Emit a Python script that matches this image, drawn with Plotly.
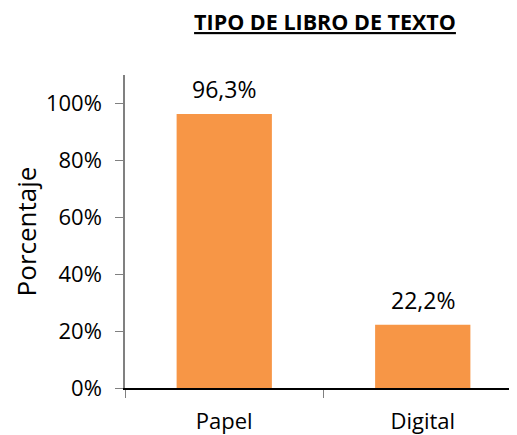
import plotly.graph_objects as go

categories = ["Papel", "Digital"]
values = [0.963, 0.222]
value_labels = ["96,3%", "22,2%"]
title_text = "TIPO DE LIBRO DE TEXTO"
y_title = "Porcentaje"
y_tickvals = [0, 0.2, 0.4, 0.6, 0.8, 1.0]
bar_color = "#F79646"
FONT = "Open Sans, Liberation Sans, sans-serif"

# page body has an 8px default margin, so the figure is sized to fit inside the window
W, H = 509, 427

fig = go.Figure(
    go.Bar(
        x=categories,
        y=values,
        marker=dict(color=bar_color, line=dict(width=0)),
        cliponaxis=False,
        width=0.48,
    )
)

for c, v, t in zip(categories, values, value_labels):
    fig.add_annotation(
        x=c, y=v, text=t, showarrow=False,
        yanchor="bottom", yshift=7,
        font=dict(size=23, family=FONT, color="#000000"),
    )

fig.update_layout(
    width=W,
    height=H,
    separators=",.",
    paper_bgcolor="white",
    plot_bgcolor="white",
    margin=dict(l=117, r=0, t=67, b=47, autoexpand=False),
    showlegend=False,
    font=dict(family=FONT, color="#000000"),
    title=dict(
        text="<b><u>" + title_text + "</u></b>",
        x=317 / W,
        xanchor="center",
        y=1 - 14.5 / H,
        yanchor="middle",
        font=dict(size=21.5, family=FONT, color="#000000"),
    ),
)

fig.update_xaxes(
    type="category",
    range=[-0.5, -0.5 + 392 / 198.5],
    automargin=False,
    showline=True,
    linecolor="#000000",
    linewidth=1.5,
    ticks="outside",
    tickson="boundaries",
    ticklen=8,
    tickcolor="#808080",
    ticklabelstandoff=13,
    tickfont=dict(size=22, family=FONT, color="#000000"),
    showgrid=False,
    zeroline=False,
)

fig.update_yaxes(
    range=[0, 1.1],
    tickvals=y_tickvals,
    tickformat=".0%",
    automargin=False,
    showline=True,
    linecolor="#808080",
    linewidth=1.5,
    ticks="outside",
    ticklen=8,
    tickcolor="#808080",
    ticklabelstandoff=9,
    tickfont=dict(size=22, family=FONT, color="#000000"),
    showgrid=False,
    zeroline=False,
    title=dict(text=y_title, font=dict(size=26, family=FONT, color="#000000"), standoff=5),
)

fig.write_html("out.html")
